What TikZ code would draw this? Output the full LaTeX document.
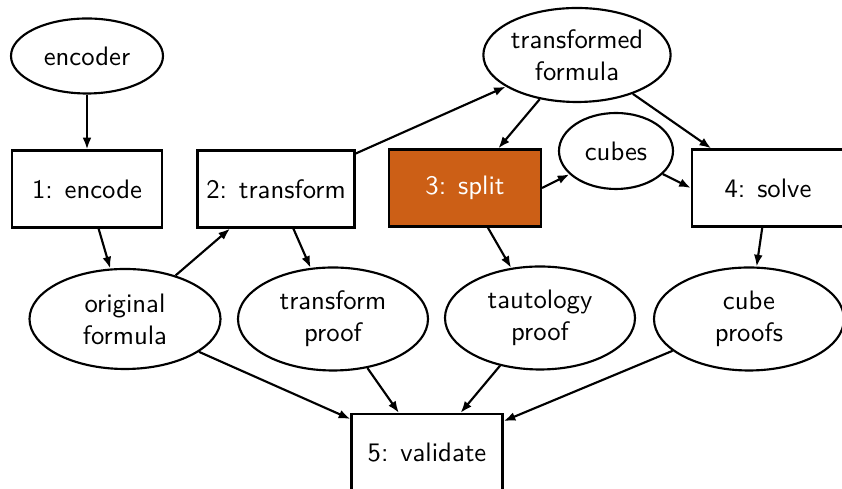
\documentclass[tikz,border=0pt]{standalone}
\usetikzlibrary{shapes.geometric,arrows.meta}
\definecolor{splitfill}{RGB}{204,95,22}
\newcommand\px[1]{#1*0.3745pt}
\begin{document}
\begin{tikzpicture}[x=0.3745pt,y=-0.3745pt,font=\sffamily,
  base/.style={draw,line width=0.8pt,inner sep=0pt,align=center},
  ell/.style={base,ellipse},
  box/.style={base,rectangle},
  link/.style={line width=0.8pt,-{Latex[length=4.4pt,width=3.3pt]}}]
\useasboundingbox (0,0) rectangle (842,489);
% nodes
\node[ell,minimum width=\px{152},minimum height=\px{75}] (encoder) at (87,56) {encoder};
\node[box,minimum width=\px{150},minimum height=\px{77}] (encode) at (87,189) {1: encode};
\node[box,minimum width=\px{157},minimum height=\px{77}] (transform) at (276,189) {2: transform};
\node[box,fill=splitfill,text=white,minimum width=\px{152},minimum height=\px{77}] (split) at (465,188) {3: split};
\node[box,minimum width=\px{152},minimum height=\px{77}] (solve) at (768,188) {4: solve};
\node[ell,minimum width=\px{114},minimum height=\px{76}] (cubes) at (616,151) {cubes};
\node[ell,minimum width=\px{187},minimum height=\px{94}] (tformula) at (577,55) {transformed\\formula};
\node[ell,minimum width=\px{191},minimum height=\px{100}] (oformula) at (125,319) {original\\formula};
\node[ell,minimum width=\px{190},minimum height=\px{103}] (tproof) at (333,319) {transform\\proof};
\node[ell,minimum width=\px{190},minimum height=\px{103}] (taut) at (540,318) {tautology\\proof};
\node[ell,minimum width=\px{190},minimum height=\px{103}] (cproofs) at (749,319) {cube\\proofs};
\node[box,minimum width=\px{151},minimum height=\px{78}] (validate) at (427,453) {5: validate};
% connectors
\draw[link] (encoder) -- (encode);
\draw[link] (encode) -- (oformula);
\draw[link] (oformula) -- (transform);
\draw[link] (transform) -- (tproof);
\draw[link] (transform) -- (tformula);
\draw[link] (tformula) -- (split);
\draw[link] (tformula) -- (solve);
\draw[link] (split.east) -- (cubes);
\draw[link] (cubes) -- (solve.west);
\draw[link] (split) -- (taut);
\draw[link] (solve) -- (cproofs);
\draw[link] (oformula) -- (validate);
\draw[link] (tproof) -- (validate);
\draw[link] (taut) -- (validate);
\draw[link] (cproofs) -- (validate);
\end{tikzpicture}
\end{document}
